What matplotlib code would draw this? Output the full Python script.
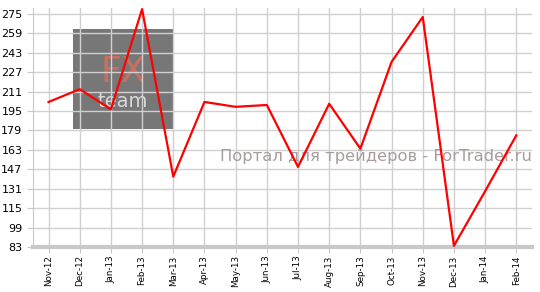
import matplotlib
matplotlib.use('Agg')
import matplotlib.pyplot as plt
from matplotlib.patches import Rectangle

# monthly values
months = ['Nov-12', 'Dec-12', 'Jan-13', 'Feb-13', 'Mar-13', 'Apr-13', 'May-13', 'Jun-13',
          'Jul-13', 'Aug-13', 'Sep-13', 'Oct-13', 'Nov-13', 'Dec-13', 'Jan-14', 'Feb-14']
values = [202.5, 213, 196.5, 279, 141, 202.5, 198.5, 200,
          149, 201, 164, 235.5, 272.5, 84, 129, 175]
y_ticks = list(range(83, 276, 16))

fig = plt.figure(figsize=(5.4, 2.92), dpi=100)
ax = fig.add_axes([0.061, 0.154, 0.924, 0.819])

x = list(range(len(months)))

# grey logo box behind the grid
ax.add_patch(Rectangle((0.08, 0.494), 0.201, 0.418, transform=ax.transAxes,
                       facecolor='#777777', edgecolor='none', zorder=0))
ax.text(0.18, 0.73, 'FX', transform=ax.transAxes, fontsize=26, color='#c8705f',
        ha='center', va='center', zorder=0.5, family='DejaVu Sans', stretch='expanded')
ax.text(0.18, 0.61, 'team', transform=ax.transAxes, fontsize=14, color='#d8d8d8',
        ha='center', va='center', zorder=0.5)

ax.plot(x, values, color='#ff0000', lw=1.6, zorder=3)

ax.text(0.999, 0.377, 'Портал для трейдеров - ForTrader.ru', transform=ax.transAxes,
        fontsize=11.8, color='#a89c9c', ha='right', va='center', zorder=2)

ax.set_xlim(-0.5, len(months) - 0.5)
ax.set_ylim(83, 280)
ax.set_xticks(x)
ax.set_xticklabels(months, rotation=90, fontsize=6.3)
ax.set_yticks(y_ticks)
ax.set_yticklabels([str(t) for t in y_ticks], fontsize=8)

ax.grid(True, color='#d0d0d0', lw=1, zorder=1)
for line in ax.get_xgridlines() + ax.get_ygridlines():
    line.set_zorder(1)

for s in ['top', 'right']:
    ax.spines[s].set_visible(False)
ax.spines['left'].set_color('#c8c8c8')
ax.spines['bottom'].set_color('#c8c8c8')
ax.spines['bottom'].set_linewidth(3)
ax.tick_params(axis='both', colors='#c8c8c8', labelcolor='black', length=4)
ax.tick_params(axis='x', pad=2)

fig.savefig('out.png', dpi=100)
